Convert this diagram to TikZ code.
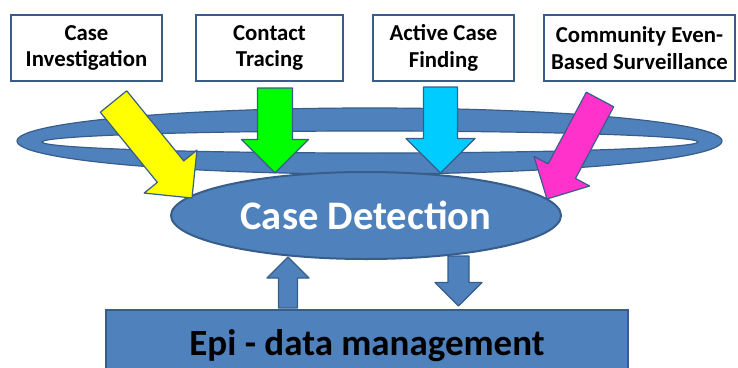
\documentclass[tikz,border=0pt]{standalone}
\usepackage{fontspec}
\setmainfont{Carlito}
\usetikzlibrary{calc,shapes.geometric}
\definecolor{pblue}{HTML}{4F81BD}
\definecolor{dblue}{HTML}{385D8A}
\definecolor{ayellow}{HTML}{FFFF00}
\definecolor{agreen}{HTML}{00FF00}
\definecolor{acyan}{HTML}{00CCFF}
\definecolor{apink}{HTML}{FF33CC}
\newcommand\blockarr[5]{%
  \coordinate (tmpH) at ($(#2)!#4!(#1)$);
  \draw[#5] ($(#1)!#3!90:(#2)$) -- ($(tmpH)!#3!90:(#2)$) -- ($(tmpH)!#4!90:(#2)$) -- (#2)
    -- ($(tmpH)!#4!-90:(#2)$) -- ($(tmpH)!#3!-90:(#2)$) -- ($(#1)!#3!-90:(#2)$) -- cycle;}
\tikzset{
  tbox/.style={draw=dblue, fill=white, line width=2pt, inner sep=0pt, align=center,
    minimum height=66pt, font=\bfseries\fontsize{22.8}{26.7}\selectfont},
  barrow/.style={draw=dblue, line width=1.2pt, line join=round},
}
\begin{document}
\begin{tikzpicture}[x=1pt,y=-1pt]
\useasboundingbox (0,0) rectangle (738,367);
\clip (0,0) rectangle (738,367);
% ring
\path[fill=pblue, draw=dblue, line width=1.2pt, even odd rule]
  (369.5,141) ellipse [x radius=352.5pt, y radius=33pt]
  (370,142) ellipse [x radius=328pt, y radius=11pt];
% case detection
\node[ellipse, draw=dblue, fill=pblue, line width=2pt, minimum width=390pt, minimum height=87pt,
  inner sep=0pt, text=white, font=\bfseries\fontsize{40.5}{46}\selectfont] (cd) at (366,215.5) {Case Detection};
% up / down arrows
\coordinate (ua) at (288,308); \coordinate (ub) at (288,257);
\blockarr{ua}{ub}{9.5pt}{21pt}{barrow, fill=pblue}
\coordinate (da) at (458.5,256); \coordinate (db) at (458.5,306);
\blockarr{da}{db}{10.5pt}{23.5pt}{barrow, fill=pblue}
% epi box
\node[draw=dblue, fill=pblue, line width=2pt, minimum width=522pt, minimum height=71pt,
  anchor=north west, inner sep=0pt, font=\bfseries\fontsize{37}{44}\selectfont] (epi) at (105,309) {Epi - data management};
% top boxes
\node[tbox, minimum width=151pt] (b1) at (86.5,48) {Case\\Investigation};
\node[tbox, minimum width=147pt] (b2) at (269.5,48) {Contact\\Tracing};
\node[tbox, minimum width=141pt] (b3) at (443.5,48) {Active Case\\Finding};
\node[tbox, minimum width=191pt] (b4) at (639.5,48) {Community Even-\\Based Surveillance};
% coloured arrows
\coordinate (ya) at (113.5,101.5); \coordinate (yb) at (192,198);
\blockarr{ya}{yb}{17pt}{34pt}{barrow, fill=ayellow}
\coordinate (ga) at (275,88); \coordinate (gb) at (275,173);
\blockarr{ga}{gb}{17.5pt}{33.5pt}{barrow, fill=agreen}
\coordinate (ca) at (440.5,87); \coordinate (cb) at (440.5,173);
\blockarr{ca}{cb}{17pt}{34.5pt}{barrow, fill=acyan}
\coordinate (pa) at (600,99.5); \coordinate (pb) at (547,199);
\blockarr{pa}{pb}{15.5pt}{31.5pt}{barrow, fill=apink}
\end{tikzpicture}
\end{document}
